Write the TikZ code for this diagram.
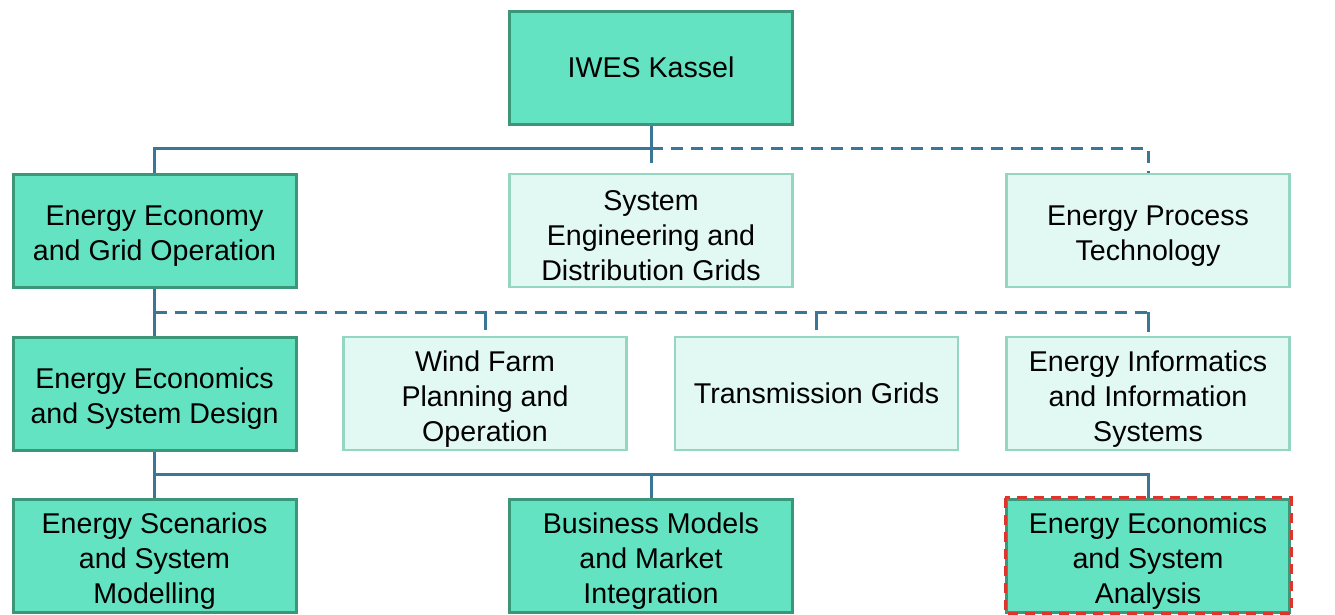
\documentclass[tikz,border=0pt]{standalone}
\usepackage{fontspec}
\setmainfont{Liberation Sans}
% tall strut for the first line of a stacked label, which sets the text a little lower
\newcommand{\firstline}{\rule{0pt}{31pt}}
\begin{document}
\definecolor{darkfill}{RGB}{99,227,194}
\definecolor{darkedge}{RGB}{60,150,122}
\definecolor{lightfill}{RGB}{226,248,242}
\definecolor{lightedge}{RGB}{148,214,194}
\definecolor{linkblue}{RGB}{58,118,150}
\definecolor{markred}{RGB}{222,52,44}
\begin{tikzpicture}[x=1pt,y=-1pt,
  unit/.style={rectangle, minimum width=283pt, minimum height=113pt, inner sep=0pt,
    align=center, font=\fontsize{28.6}{35}\selectfont},
  core/.style={unit, fill=darkfill, draw=darkedge, line width=3pt},
  partner/.style={unit, fill=lightfill, draw=lightedge, line width=2.4pt},
  link/.style={draw=linkblue, line width=3pt},
  dashlink/.style={link, dash pattern=on 12pt off 8pt}]
\useasboundingbox (0,0) rectangle (1335,614);

% level 1
\node[core] (iwes) at (651,67.5) {IWES Kassel};

% level 2
\node[core]    (eeg) at (154.5,230.5) {\firstline Energy Economy\\and Grid Operation};
\node[partner] (sed) at (651,230.5)   {\firstline System\\Engineering and\\Distribution Grids};
\node[partner] (ept) at (1148,230.5)  {\firstline Energy Process\\Technology};

% level 3
\node[core]    (eesd) at (154.5,393.5) {\firstline Energy Economics\\and System Design};
\node[partner] (wfp)  at (485,393.5)   {\firstline Wind Farm\\Planning and\\Operation};
\node[partner] (tg)   at (816.5,393.5) {Transmission Grids};
\node[partner] (eii)  at (1148,393.5)  {\firstline Energy Informatics\\and Information\\Systems};

% level 4
\node[core] (esm)  at (154.5,555.5) {\firstline Energy Scenarios\\and System\\Modelling};
\node[core] (bmm)  at (651,555.5)   {\firstline Business Models\\and Market\\Integration};
\node[core] (eesa) at (1148,555.5)  {\firstline Energy Economics\\and System\\Analysis};
\draw[markred, line width=3pt, dash pattern=on 10pt off 7pt]
  (eesa.north west) rectangle (eesa.south east);

% connectors below IWES Kassel
\coordinate (j1) at (651,148);
\coordinate (s1) at (651,163);
\draw[link] (iwes.south) -- (s1);
\draw[link] (eeg.north) |- (j1);
\draw[dashlink] (j1) -| (ept.north);

% connectors below Energy Economy and Grid Operation
\coordinate (j2) at (154.5,312);
\coordinate (j2e) at (1148,312);
\coordinate (s2a) at (485,330);
\coordinate (s2b) at (816.5,330);
\coordinate (s2c) at (1148,332);
\draw[link] (eeg.south) -- (eesd.north);
\draw[dashlink] (j2) -- (j2e);
\draw[link] (s2a |- j2) -- (s2a);
\draw[link] (s2b |- j2) -- (s2b);
\draw[link] (j2e) -- (s2c);

% connectors below Energy Economics and System Design
\coordinate (j3) at (154.5,474);
\draw[link] (eesd.south) -- (esm.north);
\draw[link] (j3) -| (eesa.north);
\draw[link] (bmm.north) -- (bmm.north |- j3);
\end{tikzpicture}
\end{document}
